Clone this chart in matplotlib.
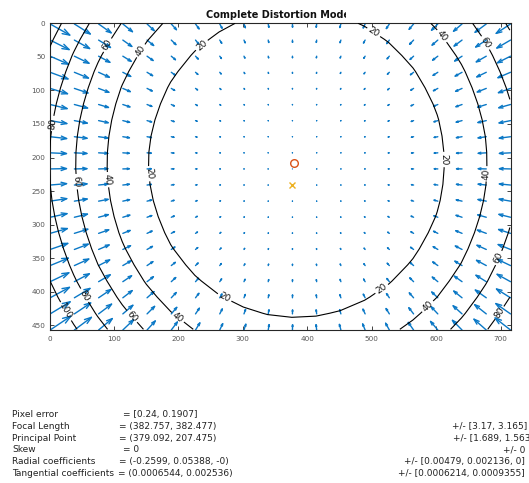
import numpy as np
import matplotlib
matplotlib.use("Agg")
import matplotlib.pyplot as plt
from matplotlib.collections import LineCollection
from matplotlib.transforms import Bbox

# ---- calibration results ----
image_size = [752, 480]                      # nx, ny
focal_length = [382.757, 382.477]
principal_point = [379.092, 207.475]
skew = 0.0
radial_coeffs = [-0.2599, 0.05388, -0.0]     # k1, k2, k3
tangential_coeffs = [0.0006544, 0.002536]    # p1, p2
pixel_error = [0.24, 0.1907]

focal_length_err = [3.17, 3.165]
principal_point_err = [1.689, 1.563]
skew_err = 0
radial_err = [0.00479, 0.002136, 0]
tangential_err = [0.0006214, 0.0009355]

contour_levels = [20, 40, 60, 80, 100]
grid_divisions = 20
x_ticks = [0, 100, 200, 300, 400, 500, 600, 700]
y_ticks = [0, 50, 100, 150, 200, 250, 300, 350, 400, 450]

# contour label anchor points (pixel coordinates of the image)
label_points = [(234, 30), (156, 224), (272, 408), (502, 15), (611, 203), (515, 395),
                (140, 40), (91, 233), (200, 437), (605, 22), (674, 224), (585, 420),
                (89, 32), (42, 236), (130, 435), (675, 30), (693, 348),
                (3, 149), (55, 405), (696, 430),
                (24, 430)]

QUIVER_BLUE = "#0a78c6"
PP_ORANGE = "#D95319"
CENTER_YELLOW = "#EDB120"

# ---- distortion field on a coarse grid ----
nx, ny = image_size
gx = np.arange(0, nx - 1, nx / grid_divisions)
gy = np.arange(0, ny - 1, ny / grid_divisions)
mx, my = np.meshgrid(gx, gy)

fc0, fc1 = focal_length
cc0, cc1 = principal_point
k1, k2, k3 = radial_coeffs
p1, p2 = tangential_coeffs

yn = (my - cc1) / fc1
xn = (mx - cc0 - skew * fc0 * yn) / fc0
r2 = xn ** 2 + yn ** 2
cdist = 1 + k1 * r2 + k2 * r2 ** 2 + k3 * r2 ** 3
xd = xn * cdist + 2 * p1 * xn * yn + p2 * (r2 + 2 * xn ** 2)
yd = yn * cdist + p1 * (r2 + 2 * yn ** 2) + 2 * p2 * xn * yn
px2 = fc0 * (xd + skew * yd) + cc0
py2 = fc1 * yd + cc1
dx = px2 - mx
dy = py2 - my
dr = np.hypot(dx, dy)

# ---- figure ----
W, H = 529, 483
fig = plt.figure(figsize=(W / 100, H / 100), dpi=100)
fig.patch.set_facecolor("white")
ax_l, ax_r, ax_t, ax_b = 49.5, 510.5, 23.3, 330.0
ax = fig.add_axes([ax_l / W, 1 - ax_b / H, (ax_r - ax_l) / W, (ax_b - ax_t) / H])

# quiver arrows with open heads, autoscaled to the grid spacing
tx = (mx + 1).ravel()
ty = (my + 1).ravel()
u = dx.ravel()
v = dy.ravel()
n = np.sqrt(tx.size)
delx = (tx.max() - tx.min()) / n
dely = (ty.max() - ty.min()) / n
maxlen = np.max(np.hypot(u, v) / np.sqrt(delx ** 2 + dely ** 2))
s = 0.9 / maxlen
u = u * s
v = v * s
alpha, beta = 0.33, 0.33
segs = []
for x0, y0, uu, vv in zip(tx, ty, u, v):
    tipx, tipy = x0 + uu, y0 + vv
    segs.append([(x0, y0), (tipx, tipy)])
    segs.append([(tipx - alpha * (uu + beta * vv), tipy - alpha * (vv - beta * uu)),
                 (tipx, tipy),
                 (tipx - alpha * (uu - beta * vv), tipy - alpha * (vv + beta * uu))])
ax.add_collection(LineCollection(segs, colors=QUIVER_BLUE, linewidths=1.0,
                                 capstyle="round", joinstyle="round", zorder=2))

ax.plot(cc0 + 1, cc1 + 1, "o", mfc="none", mec=PP_ORANGE, ms=5.5, mew=1.0, zorder=4)
ax.plot((nx - 1) / 2 + 1, (ny - 1) / 2 + 1, "x", color=CENTER_YELLOW, ms=4.8, mew=1.0, zorder=4)

xmax = tx.max()
ymax = ty.max()
ax.set_xlim(0, xmax)
ax.set_ylim(ymax, 0)

cs = ax.contour(mx, my, dr, levels=contour_levels, colors="k", linewidths=0.8, zorder=3)
labels = ax.clabel(cs, manual=label_points, inline=True, inline_spacing=2, fontsize=6.5,
                   fmt="%d", colors="#111111")
for t in labels:
    t.set_clip_on(False)
ax.set_xlim(0, xmax)
ax.set_ylim(ymax, 0)

ax.set_xticks(x_ticks)
ax.set_yticks(y_ticks)
ax.tick_params(direction="in", length=3, width=0.6, top=True, right=True,
               labelsize=5.2, labelcolor="#555555", color="#262626")
ax.tick_params(axis="x", pad=4.5)
ax.tick_params(axis="y", pad=3)
for sp in ax.spines.values():
    sp.set_color("#262626")
    sp.set_linewidth(0.8)

# title, cut off on the right
title = fig.text(((ax_l + ax_r) / 2) / W, 1 - 18.0 / H, "Complete Distortion Model",
                 ha="center", va="baseline", fontsize=7, fontweight="bold",
                 family="DejaVu Sans", color="#111111")
title.set_clip_box(Bbox.from_extents(0, 0, 346, H))
title.set_clip_on(True)

# ---- parameter summary ----
def fmt(v):
    return format(v, "g")

names = ["Pixel error", "Focal Length", "Principal Point", "Skew",
         "Radial coefficients", "Tangential coefficients"]
values = [
    "= [" + ", ".join(fmt(v) for v in pixel_error) + "]",
    "= (" + ", ".join(fmt(v) for v in focal_length) + ")",
    "= (" + ", ".join(fmt(v) for v in principal_point) + ")",
    "= " + fmt(skew),
    "= (" + ", ".join(fmt(v) for v in radial_coeffs) + ")",
    "= (" + ", ".join(fmt(v) for v in tangential_coeffs) + ")",
]
errors = [
    None,
    "+/- [" + ", ".join(fmt(v) for v in focal_length_err) + "]",
    "+/- [" + ", ".join(fmt(v) for v in principal_point_err) + "]",
    "+/- " + fmt(skew_err),
    "+/- [" + ", ".join(fmt(v) for v in radial_err) + "]",
    "+/- [" + ", ".join(fmt(v) for v in tangential_err) + "]",
]
value_x = [123.3, 119.0, 119.0, 123.3, 119.0, 118.3]
error_x = [None, 451.7, 452.7, 503.0, 404.3, 398.3]
line0, line_step = 417.3, 11.65
txt_kw = dict(fontsize=6.5, family="DejaVu Sans", color="#222222", va="baseline")
for i in range(len(names)):
    yb = 1 - (line0 + i * line_step) / H
    fig.text(12 / W, yb, names[i], ha="left", **txt_kw)
    fig.text(value_x[i] / W, yb, values[i], ha="left", **txt_kw)
    if errors[i] is not None:
        fig.text(error_x[i] / W, yb, errors[i], ha="left", **txt_kw)

fig.savefig("out.png", dpi=100)
